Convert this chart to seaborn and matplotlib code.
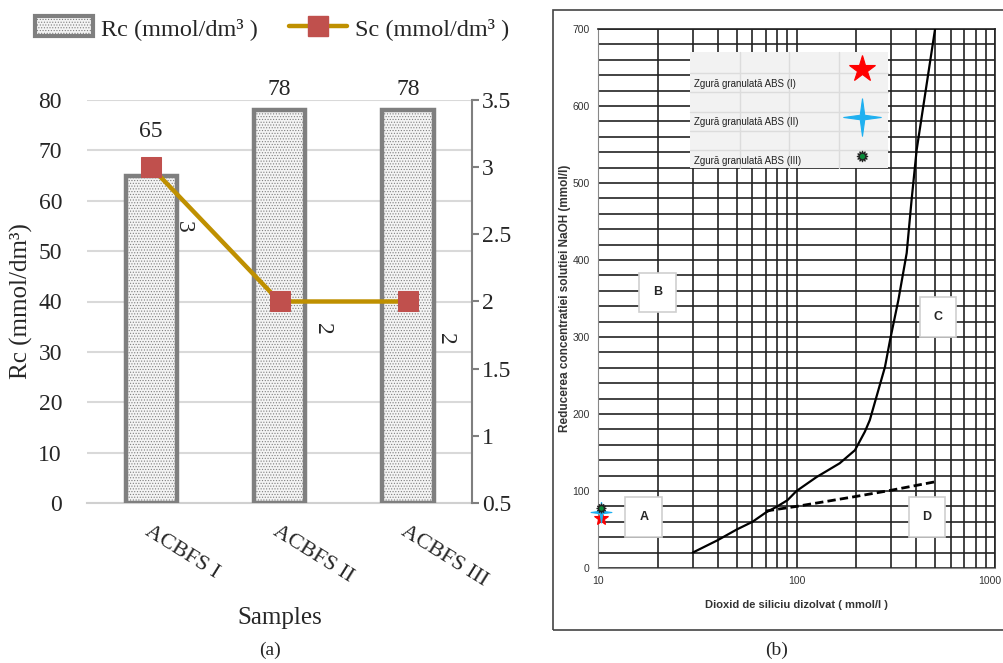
import numpy as np
import pandas as pd
import matplotlib
matplotlib.use("Agg")
import matplotlib.pyplot as plt
import matplotlib.transforms as mtrans
import seaborn as sns
from matplotlib.patches import Rectangle, Patch
from matplotlib.lines import Line2D

# ---------------- data ----------------
samples = ["ACBFS I", "ACBFS II", "ACBFS III"]
rc_values = [65, 78, 78]
sc_values = [3, 2, 2]

sio2_curve = [30, 40, 50, 60, 70, 80, 90, 100, 126, 165, 197, 221, 234, 279, 296, 326, 359, 380, 403, 499]
naoh_curve = [20, 36, 50, 60, 72, 80, 88, 100, 118, 136, 153, 177, 192, 261, 296, 348, 409, 478, 543, 700]

sio2_dashed = [70, 100, 200, 300, 500]
naoh_dashed = [74, 80, 93, 101, 112]

slag_names = ["Zgură granulată ABS (I)", "Zgură granulată ABS (II)", "Zgură granulată ABS (III)"]
slag_x = [10.4, 10.4, 10.4]
slag_y = [65, 73, 78]

region_labels = ["A", "B", "C", "D"]
region_x = [17, 20, 516, 454]
region_y = [66, 358, 326, 66]

# ---------------- style ----------------
sns.set_style("white")
plt.rcParams["font.family"] = ["Liberation Serif", "DejaVu Serif"]
plt.rcParams["hatch.color"] = "#a8a8a8"
plt.rcParams["hatch.linewidth"] = 0.5

W, H = 1004, 663
fig = plt.figure(figsize=(W / 100, H / 100), dpi=100)

def fr(x0, y0, x1, y1):
    return [x0 / W, 1 - y1 / H, (x1 - x0) / W, (y1 - y0) / H]

# ================= panel (a) =================
ax1 = fig.add_axes(fr(87, 100, 472, 503))
df = pd.DataFrame({"Sample": samples, "Rc": rc_values, "Sc": sc_values})
sns.barplot(data=df, x="Sample", y="Rc", ax=ax1, width=0.4,
            color="#eeeeee", edgecolor="#7f7f7f", linewidth=3.2, zorder=3)
for p in ax1.patches:
    p.set_hatch("......")
    p.set_facecolor("#f4f4f4")
ax1.set_ylim(0, 80)
ax1.set_xlim(-0.5, 2.5)
ax1.set_yticks(np.arange(0, 81, 10))
ax1.yaxis.grid(True, color="#d9d9d9", linewidth=1.5, zorder=0)
ax1.set_axisbelow(True)
for s in ["top", "left", "right"]:
    ax1.spines[s].set_visible(False)
ax1.spines["bottom"].set_color("#d0d0d0")
ax1.spines["bottom"].set_linewidth(1.5)
ax1.tick_params(axis="y", length=0, labelsize=17, pad=18)
ax1.tick_params(axis="x", which="major", length=0, labelsize=16, pad=14)
ax1.set_xticks([-0.5, 0.5, 1.5, 2.5], minor=True)
ax1.tick_params(axis="x", which="minor", length=8, color="#d0d0d0", width=1.5)
for lab in ax1.get_xticklabels():
    lab.set_rotation(-32)
    lab.set_ha("left")
    lab.set_rotation_mode("anchor")
ax1.set_xlabel("Samples", fontsize=18, labelpad=12)
ax1.set_ylabel("Rc (mmol/dm³)", fontsize=18, labelpad=4)

rc_offsets = [(0, 32), (0, 15), (0, 15)]
for i, v in enumerate(rc_values):
    ax1.annotate(str(v), (i, v), xytext=rc_offsets[i], textcoords="offset points",
                 ha="center", va="center", fontsize=17)

ax2 = ax1.twinx()
sns.lineplot(x=[0, 1, 2], y=sc_values, ax=ax2, color="#bf9000", linewidth=3.2,
             marker="s", markersize=14, markerfacecolor="#c0504d",
             markeredgecolor="#c0504d", zorder=5)
ax2.set_ylim(0.5, 3.5)
ax2.set_yticks(np.arange(0.5, 3.51, 0.5))
ax2.set_yticklabels(["0.5", "1", "1.5", "2", "2.5", "3", "3.5"])
for s in ["top", "left", "bottom"]:
    ax2.spines[s].set_visible(False)
ax2.spines["right"].set_color("#7f7f7f")
ax2.spines["right"].set_linewidth(1.5)
ax2.tick_params(axis="y", length=5, color="#7f7f7f", width=1.5, labelsize=17, pad=2)
ax2.set_ylabel("")
sc_offsets = [(23, -43), (31, -20), (27, -27)]
for i, v in enumerate(sc_values):
    ax2.annotate(str(v), (i, v), xytext=sc_offsets[i], textcoords="offset points",
                 ha="center", va="center", fontsize=17, rotation=-90)

handles = [Patch(facecolor="#f4f4f4", edgecolor="#7f7f7f", linewidth=3, hatch="......"),
           Line2D([0], [0], color="#bf9000", linewidth=3.2, marker="s", markersize=14,
                  markerfacecolor="#c0504d", markeredgecolor="#c0504d")]
fig.legend(handles, ["Rc (mmol/dm³ )", "Sc (mmol/dm³ )"], loc="center",
           bbox_to_anchor=(272 / W, 1 - 28 / H), ncol=2, frameon=False, fontsize=17.5,
           handlelength=2.4, handleheight=0.9, columnspacing=1.3, handletextpad=0.3)

fig.text(270 / W, 1 - 650 / H, "(a)", ha="center", va="center", fontsize=14)
fig.text(777 / W, 1 - 650 / H, "(b)", ha="center", va="center", fontsize=14)

# ================= panel (b) =================
fig.patches.append(Rectangle((553 / W, 1 - 630 / H), (W + 5 - 553) / W, (630 - 10) / H,
                             transform=fig.transFigure, fill=False, edgecolor="#444444",
                             linewidth=1.2, clip_on=False))

ax3 = fig.add_axes(fr(598, 29, 995, 568))
sans_n = ["Liberation Sans Narrow", "Liberation Sans", "DejaVu Sans"]
sns.lineplot(x=sio2_curve, y=naoh_curve, ax=ax3, color="black", linewidth=1.6,
             sort=False, estimator=None, zorder=4)
sns.lineplot(x=sio2_dashed, y=naoh_dashed, ax=ax3, color="black", linewidth=2.0,
             linestyle=(0, (3, 1.5)), sort=False, estimator=None, zorder=4)
ax3.set_xscale("log")
ax3.set_xlim(10, 1000)
ax3.set_ylim(0, 700)
ax3.set_yticks(np.arange(0, 701, 100))
ax3.set_yticks(np.arange(0, 701, 20), minor=True)
ax3.grid(True, which="both", color="#222222", linewidth=1.2, zorder=1)
for s in ["top", "right"]:
    ax3.spines[s].set_color("#222222")
    ax3.spines[s].set_linewidth(1.2)
ax3.spines["left"].set_color("#888888")
ax3.spines["bottom"].set_color("#888888")
ax3.tick_params(axis="both", which="major", length=4, color="#888888", labelsize=7.5,
                labelcolor="#333333", pad=2)
ax3.tick_params(axis="both", which="minor", length=0)
ax3.set_xticks([10, 100, 1000])
ax3.set_xticklabels(["10", "100", "1000"])
for lab in ax3.get_xticklabels() + ax3.get_yticklabels():
    lab.set_family(sans_n)
last = ax3.get_xticklabels()[-1]
last.set_transform(last.get_transform() + mtrans.ScaledTranslation(-5 / 100, 0, fig.dpi_scale_trans))
ax3.set_xlabel("Dioxid de siliciu dizolvat ( mmol/l )", fontsize=8, fontweight="bold",
               family=sans_n, color="#333333", labelpad=10)
ax3.set_ylabel("Reducerea concentratiei solutiei NaOH (mmol/l)", fontsize=8.5,
               fontweight="bold", family=["Liberation Sans", "DejaVu Sans"],
               color="#333333", labelpad=1)

for t, x, y in zip(region_labels, region_x, region_y):
    ax3.text(x, y, t, ha="center", va="center", fontsize=9, fontweight="bold",
             family=sans_n, zorder=6,
             bbox=dict(boxstyle="square,pad=1.1", facecolor="white",
                       edgecolor="#cfcfcf", linewidth=1.2))

star4 = [(0, 1), (0.12, 0.12), (1, 0), (0.12, -0.12), (0, -1), (-0.12, -0.12),
         (-1, 0), (-0.12, 0.12), (0, 1)]
slag_markers = ["*", star4, (12, 1, 0)]
slag_colors = ["#ff0000", "#1fb0f0", "#0a8a3a"]
plot_sizes = [11, 15, 7]
legend_sizes = [20, 27, 8]
for x, y, m, c, s in zip(slag_x, slag_y, slag_markers, slag_colors, plot_sizes):
    ax3.plot([x], [y], marker=m, color=c, markersize=s, linestyle="none",
             markeredgecolor="#222222" if c == "#0a8a3a" else c,
             markeredgewidth=0.8, zorder=7, clip_on=False)

# in-plot legend table
lx0, lx1, ly0, ly1 = 0.232, 0.730, 0.742, 0.957
ax3.add_patch(Rectangle((lx0, ly0), lx1 - lx0, ly1 - ly0, transform=ax3.transAxes,
                        facecolor="#f2f2f2", edgecolor="none", zorder=5))
for gx in [0.358, 0.481, 0.607]:
    ax3.plot([gx, gx], [ly0, ly1], transform=ax3.transAxes, color="#dcdcdc", lw=1, zorder=5.5)
for gy in [0.776, 0.811, 0.846, 0.883, 0.918]:
    ax3.plot([lx0, lx1], [gy, gy], transform=ax3.transAxes, color="#dcdcdc", lw=1, zorder=5.5)
row_y = [0.902, 0.831, 0.759]
mark_y = [0.925, 0.836, 0.764]
for name, ry, my, m, c, s in zip(slag_names, row_y, mark_y, slag_markers, slag_colors, legend_sizes):
    ax3.text(0.242, ry - 0.004, name, transform=ax3.transAxes, fontsize=7, family=sans_n,
             color="#222222", ha="left", va="center", zorder=6)
    ax3.plot([0.665], [my], transform=ax3.transAxes, marker=m, color=c,
             markersize=s, linestyle="none",
             markeredgecolor="#222222" if c == "#0a8a3a" else c,
             markeredgewidth=0.8, zorder=6)

fig.savefig("out.png", dpi=100)
